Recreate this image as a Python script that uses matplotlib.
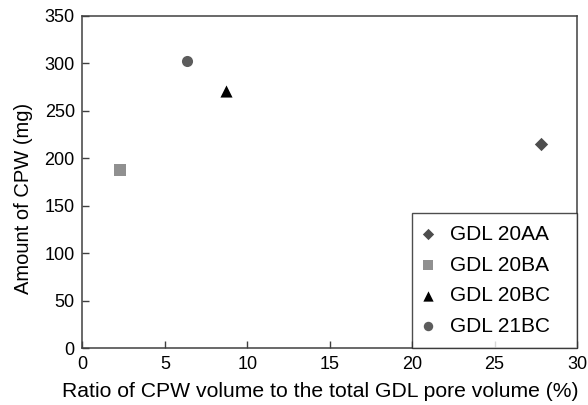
import matplotlib.pyplot as plt

plt.rcParams['font.family'] = ['Liberation Sans', 'DejaVu Sans']

# GDL samples: CPW volume ratio (%) vs. amount of CPW (mg)
labels = ['GDL 20AA', 'GDL 20BA', 'GDL 20BC', 'GDL 21BC']
ratio = [27.8, 2.25, 8.7, 6.35]
amount = [215, 188, 271, 302]
markers = ['D', 's', '^', 'o']
colors = ['#4d4d4d', '#909090', '#000000', '#5c5c5c']
sizes = [46, 74, 76, 64]

fig = plt.figure(figsize=(5.88, 4.05), dpi=100)
ax = fig.add_axes([0.1403, 0.1407, 0.8410, 0.8205])

for x, y, lab, m, c, s in zip(ratio, amount, labels, markers, colors, sizes):
    ax.scatter(x, y, marker=m, color=c, s=s, label=lab, linewidths=0, zorder=3)

ax.set_xlim(0, 30)
ax.set_ylim(0, 350)
ax.set_xticks(range(0, 31, 5))
ax.set_yticks(range(0, 351, 50))
ax.tick_params(direction='in', length=5, width=1, color='#404040',
               labelsize=13, pad=5.5)
for sp in ax.spines.values():
    sp.set_color('#404040')
    sp.set_linewidth(1.1)

ax.set_xlabel('Ratio of CPW volume to the total GDL pore volume (%)', fontsize=15.2)
ax.set_ylabel('Amount of CPW (mg)', fontsize=14.5)
ax.xaxis.set_label_coords(0.481, -0.103)
ax.yaxis.set_label_coords(-0.119, 0.45)
ax.yaxis.label.set_va('center')

# legend box pinned to the lower-right corner, stretched to a fixed width
leg = ax.legend(loc='lower left', bbox_to_anchor=(0.6657, 0.0, 0.3343, 0.4),
                mode='expand', fontsize=15, frameon=True, fancybox=False,
                edgecolor='#202020', borderaxespad=0, handletextpad=0.85,
                labelspacing=0.56, borderpad=0.58, markerscale=0.85,
                handlelength=0.4, scatterpoints=1)
leg.get_frame().set_linewidth(1.0)

fig.savefig('out.png', dpi=100)
